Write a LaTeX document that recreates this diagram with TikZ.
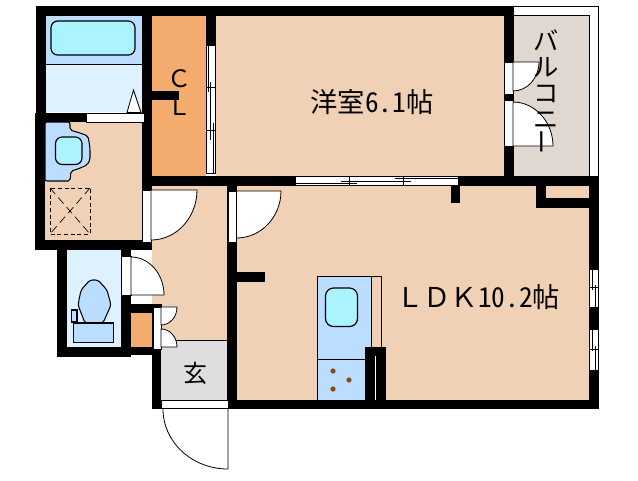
\documentclass[tikz,border=0pt]{standalone}
\usepackage{fontspec}
\usepackage{graphicx}
\newfontfamily\jp[RawFeature=+hwid]{Noto Sans CJK JP}
\newfontfamily\jpfull{Noto Sans CJK JP}
\definecolor{peach}{RGB}{241,209,182}
\definecolor{orng}{RGB}{244,172,110}
\definecolor{bluef}{RGB}{187,221,255}
\definecolor{lightb}{RGB}{221,241,255}
\definecolor{cyanf}{RGB}{170,243,255}
\definecolor{greyf}{RGB}{222,222,224}
\definecolor{balc}{RGB}{224,216,208}
\definecolor{dotb}{RGB}{140,75,20}
\tikzset{
 wall/.style={fill=black,draw=none},
 floorp/.style={fill=peach,draw=none},
 opening/.style={fill=white,draw=black,line width=0.6pt},
 leaf/.style={fill=white,draw=black,line width=0.6pt},
 fixture/.style={fill=bluef,draw=black,line width=0.8pt},
 basin/.style={fill=cyanf,draw=black,line width=0.9pt},
 thin line/.style={draw=black,line width=0.7pt},
 label/.style={inner sep=0pt,text=black,font=\jp\fontsize{20.5}{24}\selectfont},
}
\begin{document}
\begin{tikzpicture}[x=0.75pt,y=-0.75pt]
\useasboundingbox (0,0) rectangle (638,480);
\fill[white] (0,0) rectangle (638,480);
% floors
\fill[floorp] (45,122) rectangle (142,240);
\fill[lightb] (46,64) rectangle (142,112);
\fill[bluef] (46,16) rectangle (142,64);
\draw[thin line] (46,64) -- (142,64);
\fill[orng] (152,16) rectangle (206,176);
\fill[floorp] (216,16) rectangle (504,176);
\fill[floorp] (152,186) rectangle (227,340);
\fill[floorp] (237,186) rectangle (589,400);
\fill[greyf] (161,340) rectangle (227,400);
\draw[thin line] (161,340) -- (227,340);
\fill[lightb] (67,250) rectangle (121,347);
\fill[orng] (131,313) rectangle (152,347);
\fill[balc] (513,15) rectangle (589,176);
\draw[thin line] (513,6.5) -- (598.5,6.5) -- (598.5,176);
\draw[thin line] (513,15.5) -- (589.5,15.5) -- (589.5,176);
% walls
\fill[wall] (36,6) rectangle (513.5,16);
\fill[wall] (36,6) rectangle (46,113);
\fill[wall] (35,113) rectangle (142,122);
\fill[wall] (35,113) rectangle (45,250);
\fill[wall] (35,240) rectangle (152,250);
\fill[wall] (142,16) rectangle (152,190);
\fill[wall] (152,91) rectangle (179,100);
\fill[wall] (206,16) rectangle (216,45);
\fill[wall] (142,176) rectangle (599,186);
\fill[wall] (504,16) rectangle (513.5,176);
\fill[wall] (536,186) rectangle (546,208);
\fill[wall] (536,198) rectangle (589,208);
\fill[wall] (589,176) rectangle (599,409);
\fill[wall] (227,186) rectangle (237,409);
\fill[wall] (236,272) rectangle (265,282);
\fill[wall] (451,186) rectangle (460,203);
\fill[wall] (237,400) rectangle (599,409);
\fill[wall] (57,250) rectangle (67,357);
\fill[wall] (57,347) rectangle (131,357);
\fill[wall] (121,250) rectangle (131,357);
\fill[wall] (121,347) rectangle (152,355);
\fill[wall] (131,304) rectangle (162,313);
\fill[wall] (152,304) rectangle (161,409);
% bath
\draw[basin,rounded corners=5pt] (51,21) rectangle (135,55);
\draw[fill=white,draw=black,line width=0.6pt] (127,112.5) -- (133.5,90) -- (141,112.5) -- cycle;
\draw[opening] (86,113) rectangle (144,122);
% wash basin
\draw[fixture,rounded corners=1.5pt] (45,122) -- (70,122) -- (70,130) -- (80,133) -- (88,136) -- (90,148) -- (90,160) -- (87,165) -- (78,169) -- (71,171) -- (70,181) -- (45,181) -- cycle;
\draw[basin,rounded corners=5pt] (55.5,137) rectangle (82,164.5);
\draw[dash pattern=on 3pt off 2pt,line width=0.6pt] (50,188) rectangle (90,234);
\draw[dash pattern=on 6pt off 3.5pt,line width=0.5pt] (50,188) -- (90,234);
\draw[dash pattern=on 6pt off 3.5pt,line width=0.5pt] (90,188) -- (50,234);
% closet sliding door
\draw[opening] (206.5,45) rectangle (215.5,173);
\draw[thin line,line width=0.6pt] (208.7,45) -- (208.7,92) (210.5,82) -- (210.5,140) (213.3,123) -- (213.3,173);
\draw[thin line,line width=0.6pt] (206.5,87) -- (215.5,87) (206.5,130) -- (215.5,130);
% doors
\draw[opening] (142.5,190) rectangle (151,242);
\draw[leaf] (151,190) -- (197,190) .. controls (197,217.6) and (176.4,240) .. (151,240) -- cycle;
\draw[opening] (228,191) rectangle (236.5,242);
\draw[leaf] (236.5,191) -- (281,191) .. controls (281,217) and (261,238) .. (236.5,238) -- cycle;
\draw[opening] (121.5,256) rectangle (131,295);
\draw[leaf] (131,295) -- (164,295) .. controls (164,274) and (149.2,257) .. (131,257) -- cycle;
\draw[opening] (153,307) rectangle (161,349);
\draw[leaf] (161,307) -- (177,307) .. controls (177,317) and (170,325) .. (161,325) -- cycle;
\draw[leaf] (161,347) -- (177,347) .. controls (177,337) and (170,329) .. (161,329) -- cycle;
\draw[opening] (161,400.5) rectangle (228,408.5);
\draw[thin line,line width=0.6pt] (163,409) .. controls (163,442) and (192,469) .. (228,469) -- (228,409);
% balcony doors
\draw[opening] (504.5,62) rectangle (513,94);
\draw[opening] (504.5,100) rectangle (513,146.5);
\draw[leaf] (513,62) -- (539,62) .. controls (539,78) and (527.4,91) .. (513,91) -- cycle;
\draw[leaf] (513,146) -- (553,146) .. controls (553,122) and (535,102) .. (513,102) -- cycle;
% LDK top sliding window
\draw[opening] (295,176.5) rectangle (458,185.5);
\draw[thin line,line width=0.6pt] (295,183) -- (357,183) (341,181) -- (411,181) (395,178.5) -- (458,178.5);
\draw[thin line,line width=0.6pt] (349,176.5) -- (349,185.5) (403.5,176.5) -- (403.5,185.5);
% right windows
\draw[opening] (589.5,269) rectangle (598,307);
\draw[opening] (589.5,329) rectangle (598,370);
\draw[thin line,line width=0.6pt] (592.3,269) -- (592.3,290) (595,285) -- (595,307) (589.5,287) -- (598,287);
\draw[thin line,line width=0.6pt] (592.3,329) -- (592.3,351) (595,346) -- (595,370) (589.5,349) -- (598,349);
% kitchen
\fill[bluef] (317,276) rectangle (371,400);
\draw[thin line] (317,400) -- (317,276) -- (381.5,276) -- (381.5,347);
\draw[thin line] (371,276) -- (371,347);
\draw[thin line] (317,359) -- (365,359);
\draw[basin,rounded corners=6pt] (325.5,288) rectangle (357.5,326.5);
\fill[dotb] (333,371) circle (2.6) (349,380) circle (2.6) (333,389) circle (2.6);
\fill[wall] (365,347) rectangle (386,400);
\draw[white,line width=0.7pt] (375.5,356) -- (375.5,400);
% toilet
\draw[fixture,rounded corners=2pt] (90,280) -- (98,280) -- (107,290) -- (111,305) -- (103,323) -- (85,323) -- (78,305) -- (81,290) -- cycle;
\draw[fixture] (73.5,323) rectangle (113.5,342.5);
\draw[fixture] (71.5,310) rectangle (77,322);
% labels
\node[label] (bed) at (372,102) {洋室6.1帖};
\node[label] (ldk) at (478,297) {{\jpfull ＬＤＫ}10.2帖};
\node[label,font=\jpfull\fontsize{18}{22}\selectfont] (cl1) at (179,79) {Ｃ};
\node[label,font=\jpfull\fontsize{18}{22}\selectfont] (cl2) at (179,107) {Ｌ};
\node[label,font=\jpfull\fontsize{18}{22}\selectfont] (entry) at (195,373) {玄};
\node[label,font=\jpfull\fontsize{19}{19.5}\selectfont,align=center] (balcony) at (546,92) {バ\\ル\\コ\\ニ\\\rotatebox{90}{ー}};
\end{tikzpicture}
\end{document}
